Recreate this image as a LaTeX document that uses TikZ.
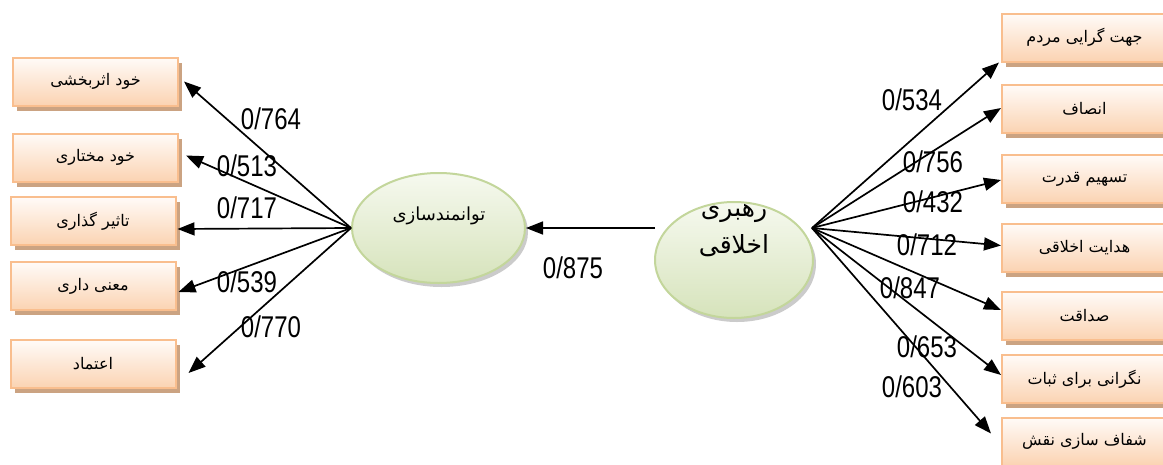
\documentclass[tikz,border=0pt]{standalone}
\usepackage{fontspec}
\setmainfont{Liberation Sans}
\newfontfamily\arabicfont[Script=Arabic]{DejaVu Sans}
\newfontfamily\numfont[FakeStretch=0.8]{Liberation Sans}
\TeXXeTstate=1
\usetikzlibrary{shadows,arrows.meta,calc,shapes.geometric}
\definecolor{boxborder}{HTML}{F9BE8E}
\definecolor{boxtop}{HTML}{FFFBF8}
\definecolor{boxbot}{HTML}{FBD3B2}
\definecolor{boxshadow}{HTML}{CBA382}
\definecolor{ellborder}{HTML}{C3D69B}
\definecolor{elltop}{HTML}{F6F9EF}
\definecolor{ellbot}{HTML}{D6E3BB}
\begin{document}
\begin{tikzpicture}[x=1pt,y=-1pt,
  box/.style={rectangle, draw=boxborder, line width=2pt, top color=boxtop, bottom color=boxbot,
    minimum width=165pt, minimum height=48pt, inner sep=0pt,
    font=\arabicfont\fontsize{16}{18}\selectfont,
    drop shadow={fill=boxshadow, opacity=1, shadow xshift=4pt, shadow yshift=-5pt}},
  ell/.style={ellipse, draw=ellborder, line width=2pt, top color=elltop, bottom color=ellbot,
    inner sep=0pt, drop shadow={fill=black!40, opacity=0.5, shadow xshift=3pt, shadow yshift=-4pt}},
  etext/.style={inner sep=0pt, align=center},
  num/.style={font=\numfont\fontsize{30}{32}\selectfont, inner sep=0pt},
  arr/.style={line width=1.7pt, -{Triangle[length=17pt,width=13pt]}}
]
\clip (0,0) rectangle (1163,464);
\fill[white] (0,0) rectangle (1163,464);

% left boxes
\node[box] (l1) at (95.5,81.5) {\beginR خود اثربخشی\endR};
\node[box] (l2) at (95.5,157.5) {\beginR خود مختاری\endR};
\node[box] (l3) at (93,221) {\beginR تاثیر گذاری\endR};
\node[box] (l4) at (93,286) {\beginR معنی داری\endR};
\node[box] (l5) at (93,364) {\beginR اعتماد\endR};

% right boxes
\node[box] (r1) at (1084.5,37.5) {\beginR جهت گرایی مردم\endR};
\node[box] (r2) at (1084.5,109) {\beginR انصاف\endR};
\node[box] (r3) at (1084.5,179) {\beginR تسهیم قدرت\endR};
\node[box] (r4) at (1084.5,247.5) {\beginR هدایت اخلاقی\endR};
\node[box] (r5) at (1084.5,316) {\beginR صداقت\endR};
\node[box] (r6) at (1084.5,379) {\beginR نگرانی برای ثبات\endR};
\node[box] (r7) at (1084.5,441.5) {\beginR شفاف سازی نقش\endR};

% ellipses
\node[ell, minimum width=173pt, minimum height=110pt] (le) at (438.5,228) {};
\node[etext, font=\arabicfont\fontsize{18}{20}\selectfont] (letext) at (439,216) {\beginR توانمندسازی\endR};
\node[ell, minimum width=158pt, minimum height=116pt] (re) at (734,260) {};
\node[etext, font=\arabicfont\fontsize{25}{37}\selectfont] (retext) at (734,231) {\beginR رهبری\endR\\\beginR اخلاقی\endR};

\coordinate (tail) at (655,228);
\coordinate (rsrc) at (812,228);

% connectors
\draw[arr] (tail) -- (le.east);
\draw[arr] (le.west) -- ($(l1.east)+(5,0)$);
\draw[arr] (le.west) -- ($(l2.east)+(7,-2)$);
\draw[arr] (le.west) -- ($(l3.east)+(1,8)$);
\draw[arr] (le.west) -- ($(l4.east)+(2,6)$);
\draw[arr] (le.west) -- ($(l5.east)+(12,9)$);

\draw[arr] (rsrc) -- ($(r1.south west)+(-2,0)$);
\draw[arr] (rsrc) -- ($(r2.west)+(0,-1)$);
\draw[arr] (rsrc) -- ($(r3.west)+(0,1)$);
\draw[arr] (rsrc) -- ($(r4.west)+(0,-2)$);
\draw[arr] (rsrc) -- ($(r5.west)+(0,-6)$);
\draw[arr] (rsrc) -- ($(r6.west)+(0,-4)$);
\draw[arr] (rsrc) -- ($(r7.west)+(-10,-8)$);

% labels
\node[num] (n1) at (271,119) {0/764};
\node[num] (n2) at (247,166) {0/513};
\node[num] (n3) at (247,208) {0/717};
\node[num] (n4) at (247,282) {0/539};
\node[num] (n5) at (271,327) {0/770};
\node[num] (n6) at (573,268) {0/875};
\node[num] (n7) at (912,100) {0/534};
\node[num] (n8) at (933,162) {0/756};
\node[num] (n9) at (933,202) {0/432};
\node[num] (n10) at (927,245) {0/712};
\node[num] (n11) at (910,288) {0/847};
\node[num] (n12) at (927,347) {0/653};
\node[num] (n13) at (912,387) {0/603};
\end{tikzpicture}
\end{document}
